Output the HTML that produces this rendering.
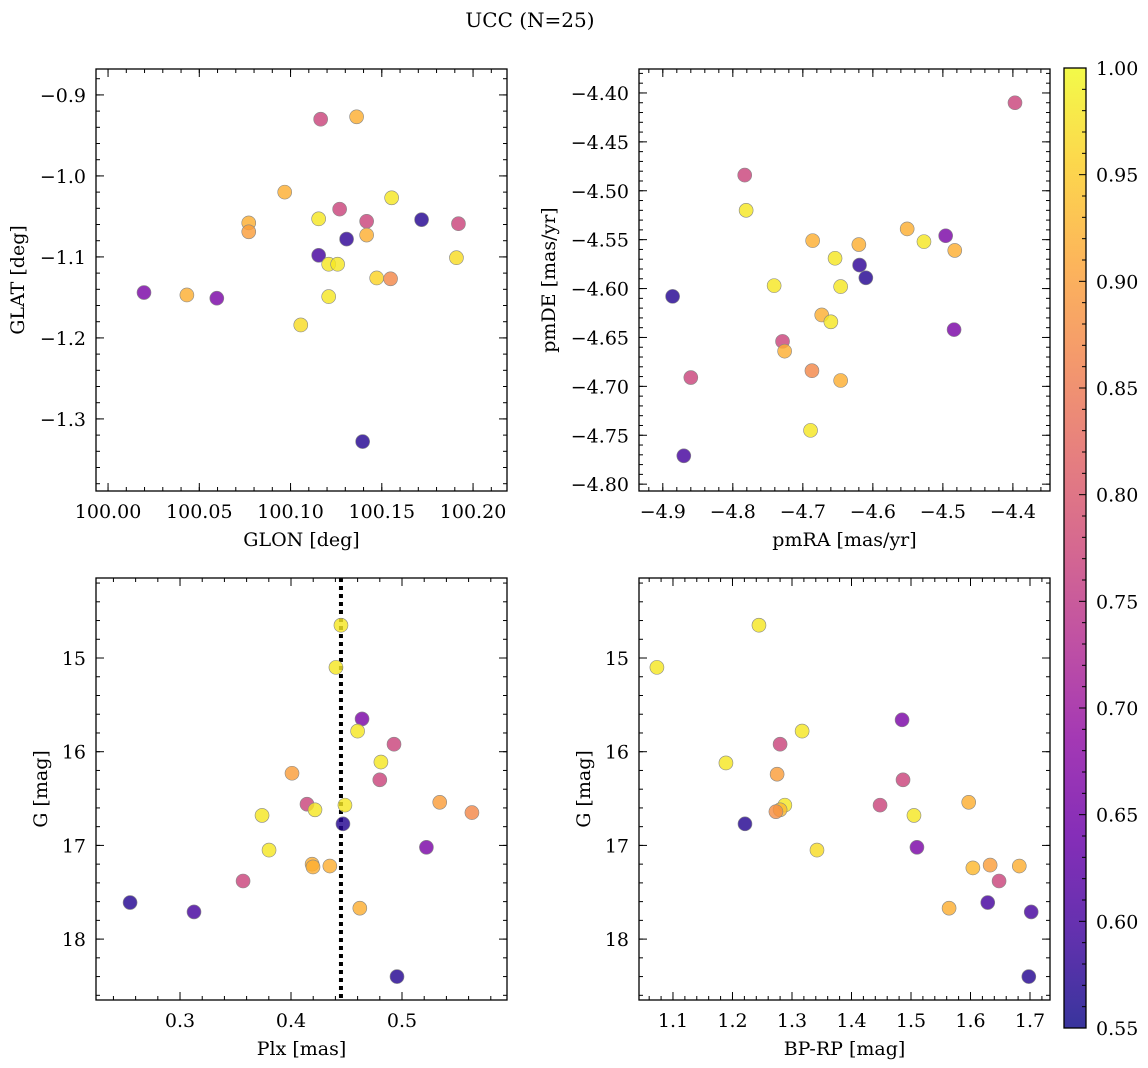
<!DOCTYPE html>
<html><head><meta charset="utf-8"><style>
html,body{margin:0;padding:0;background:#fff;}
svg{display:block;font-family:"DejaVu Serif","Liberation Serif",serif;}
</style></head><body>
<svg id="fig" width="1148" height="1068" viewBox="0 0 1148 1068" xmlns="http://www.w3.org/2000/svg">
<text x="530" y="27" font-size="20" text-anchor="middle">UCC (N=25)</text>
</svg>
<script>
const glon=[100.1165,100.1362,100.0968,100.0771,100.0771,100.1154,100.1269,100.1417,100.1554,100.1718,100.1920,100.1417,100.1307,100.1154,100.1209,100.1258,100.1909,100.1472,100.1548,100.1209,100.1056,100.0197,100.0432,100.0596,100.1395];
const glat=[-0.930,-0.927,-1.020,-1.058,-1.069,-1.053,-1.041,-1.056,-1.027,-1.054,-1.059,-1.073,-1.078,-1.098,-1.109,-1.109,-1.101,-1.126,-1.127,-1.149,-1.184,-1.144,-1.147,-1.151,-1.328];
const prob1=[0.77,0.92,0.92,0.92,0.90,0.98,0.77,0.77,0.98,0.57,0.77,0.92,0.58,0.60,0.98,0.98,0.97,0.96,0.87,0.98,0.97,0.66,0.92,0.66,0.57];
const pmra=[-4.397,-4.783,-4.781,-4.551,-4.527,-4.686,-4.620,-4.496,-4.483,-4.619,-4.610,-4.654,-4.886,-4.741,-4.646,-4.673,-4.660,-4.484,-4.729,-4.726,-4.860,-4.687,-4.646,-4.689,-4.870];
const pmde=[-4.410,-4.484,-4.520,-4.539,-4.552,-4.551,-4.555,-4.546,-4.561,-4.576,-4.589,-4.569,-4.608,-4.597,-4.598,-4.627,-4.634,-4.642,-4.654,-4.664,-4.691,-4.684,-4.694,-4.745,-4.771];
const prob2=[0.77,0.77,0.98,0.92,0.98,0.92,0.92,0.66,0.92,0.58,0.57,0.98,0.57,0.98,0.98,0.92,0.98,0.66,0.77,0.92,0.77,0.87,0.92,0.98,0.60];
const plx=[0.445,0.4405,0.464,0.460,0.4928,0.481,0.4009,0.480,0.534,0.4144,0.4486,0.4216,0.563,0.3739,0.4468,0.522,0.3802,0.419,0.4198,0.435,0.3568,0.462,0.255,0.3126,0.4955];
const gmag3=[14.65,15.10,15.65,15.78,15.92,16.11,16.23,16.30,16.54,16.56,16.57,16.62,16.65,16.68,16.77,17.02,17.05,17.20,17.23,17.22,17.38,17.67,17.61,17.71,18.40];
const prob3=[0.98,0.98,0.66,0.98,0.77,0.98,0.90,0.77,0.90,0.77,0.98,0.98,0.87,0.98,0.57,0.66,0.98,0.92,0.92,0.92,0.77,0.92,0.57,0.60,0.57];
const plxLine=[0.445];
const bprp=[1.073,1.2445,1.189,1.317,1.280,1.485,1.275,1.4866,1.597,1.448,1.288,1.280,1.273,1.505,1.221,1.510,1.342,1.604,1.633,1.682,1.648,1.564,1.629,1.702,1.698];
const gmag4=[15.10,14.65,16.12,15.78,15.92,15.66,16.24,16.30,16.54,16.57,16.57,16.62,16.64,16.68,16.77,17.02,17.05,17.24,17.21,17.22,17.38,17.67,17.61,17.71,18.40];
const prob4=[0.98,0.98,0.98,0.98,0.77,0.66,0.90,0.77,0.92,0.77,0.98,0.93,0.88,0.98,0.57,0.66,0.97,0.93,0.90,0.92,0.77,0.92,0.60,0.60,0.57];
const cbarTicks=[0.55,0.60,0.65,0.70,0.75,0.80,0.85,0.90,0.95,1.00];

const NS='http://www.w3.org/2000/svg';
const svg=document.getElementById('fig');
const FS=19;
const plasma=[[13,8,135],[65,4,157],[106,0,168],[143,13,164],[177,42,144],[204,71,120],[225,100,98],[242,132,75],[252,166,54],[252,206,37],[240,249,33]];
function cmap(v){const t=Math.max(0,Math.min(1,(v-0.55)/0.45))*10;const i=Math.min(9,Math.floor(t));const f=t-i;const a=plasma[i],b=plasma[i+1];
return 'rgb('+a.map((c,k)=>Math.round(c+(b[k]-c)*f)).join(',')+')';}
function el(tag,attrs,parent){const e=document.createElementNS(NS,tag);for(const k in attrs)e.setAttribute(k,attrs[k]);(parent||svg).appendChild(e);return e;}
function fmt(v,d){return (v<0?'\u2212':'')+Math.abs(v).toFixed(d);}

function panel(c){
  const g=el('g',{});
  
  
  const sx=v=>c.x0+(v-c.xlim[0])/(c.xlim[1]-c.xlim[0])*(c.x1-c.x0);
  const sy=c.inv?(v=>c.y0+(v-c.ylim[0])/(c.ylim[1]-c.ylim[0])*(c.y1-c.y0)):(v=>c.y1-(v-c.ylim[0])/(c.ylim[1]-c.ylim[0])*(c.y1-c.y0));
  function ticks(lim,step){const a=[];let s=Math.ceil(lim[0]/step-1e-6);for(let k=s;k*step<=lim[1]+1e-9;k++)a.push(k*step);return a;}
  const tg=el('g',{stroke:'#000','stroke-width':1},g);
  
  
  ticks(c.xlim,c.xminor).forEach(v=>{const x=sx(v);el('line',{x1:x,x2:x,y1:c.y1,y2:c.y1-4},tg);el('line',{x1:x,x2:x,y1:c.y0,y2:c.y0+4},tg);});
  ticks(c.ylim,c.yminor).forEach(v=>{const y=sy(v);el('line',{x1:c.x0,x2:c.x0+4,y1:y,y2:y},tg);el('line',{x1:c.x1,x2:c.x1-4,y1:y,y2:y},tg);});
  ticks(c.xlim,c.xmajor).forEach(v=>{const x=sx(v);el('line',{x1:x,x2:x,y1:c.y1,y2:c.y1-8},tg);el('line',{x1:x,x2:x,y1:c.y0,y2:c.y0+8},tg);
    const t=el('text',{x:x,y:c.y1+27,'font-size':FS,'text-anchor':'middle'},g);t.textContent=fmt(v,c.xd);
    });
  ticks(c.ylim,c.ymajor).forEach(v=>{const y=sy(v);el('line',{x1:c.x0,x2:c.x0+8,y1:y,y2:y},tg);el('line',{x1:c.x1,x2:c.x1-8,y1:y,y2:y},tg);
    const t=el('text',{x:c.x0-10,y:y+7,'font-size':FS,'text-anchor':'end'},g);t.textContent=fmt(v,c.yd);
    });
  if(c.vline){c.vline.forEach(v=>{const l=el('line',{x1:sx(v),x2:sx(v),y1:c.y0,y2:c.y1,stroke:'#000','stroke-width':4,'stroke-dasharray':'4 4'},g);
    });}
  const pg=el('g',{},g);
  
  
  c.xs.forEach((v,i)=>{const p=el('circle',{cx:sx(v),cy:sy(c.ys[i]),r:7,fill:cmap(c.p[i]),'fill-opacity':0.82,stroke:'#888','stroke-width':0.6},pg);
    });
  const f=el('rect',{x:c.x0,y:c.y0,width:c.x1-c.x0,height:c.y1-c.y0,fill:'none',stroke:'#000','stroke-width':1.3},g);
  
  const xl=el('text',{x:(c.x0+c.x1)/2,y:c.y1+55,'font-size':FS,'text-anchor':'middle'},g);xl.textContent=c.xlabel;
  
  const yx=c.ylx,yy=(c.y0+c.y1)/2;
  const yl=el('text',{x:yx,y:yy,'font-size':FS,'text-anchor':'middle',transform:'rotate(-90 '+yx+' '+yy+')'},g);yl.textContent=c.ylabel;
  
}
panel({name:'glon-glat-panel',x0:96,x1:507,y0:69,y1:491,xlim:[99.9934,100.2186],ylim:[-1.389,-0.868],xmajor:0.05,xminor:0.01,ymajor:0.1,yminor:0.02,xd:2,yd:1,xs:glon,ys:glat,p:prob1,xlabel:'GLON [deg]',ylabel:'GLAT [deg]',ylx:24});
panel({name:'pm-panel',x0:639,x1:1050,y0:69,y1:491,xlim:[-4.934,-4.347],ylim:[-4.807,-4.3755],xmajor:0.1,xminor:0.02,ymajor:0.05,yminor:0.01,xd:1,yd:2,xs:pmra,ys:pmde,p:prob2,xlabel:'pmRA [mas/yr]',ylabel:'pmDE [mas/yr]',ylx:555});
panel({name:'plx-g-panel',x0:96,x1:507,y0:578,y1:1000,xlim:[0.2243,0.5946],ylim:[14.146,18.65],inv:true,xmajor:0.1,xminor:0.02,ymajor:1,yminor:0.2,xd:1,yd:0,xs:plx,ys:gmag3,p:prob3,xlabel:'Plx [mas]',ylabel:'G [mag]',ylx:47,vline:plxLine});
panel({name:'cmd-panel',x0:639,x1:1050,y0:578,y1:1000,xlim:[1.0429,1.7336],ylim:[14.146,18.65],inv:true,xmajor:0.1,xminor:0.02,ymajor:1,yminor:0.2,xd:1,yd:0,xs:bprp,ys:gmag4,p:prob4,xlabel:'BP-RP [mag]',ylabel:'G [mag]',ylx:590});

const cb=el('g',{});


const defs=el('defs',{},cb);
const lg=el('linearGradient',{id:'pl',x1:0,y1:1,x2:0,y2:0},defs);
plasma.forEach((c,i)=>el('stop',{offset:(i*10)+'%','stop-color':'rgb('+c.join(',')+')','stop-opacity':0.82},lg));
const cy0=68,cy1=1028,cx0=1064,cx1=1086;
const cbs=v=>cy1-(v-0.55)/0.45*(cy1-cy0);
const bar=el('rect',{x:cx0,y:cy0,width:cx1-cx0,height:cy1-cy0,fill:'url(#pl)',stroke:'#000','stroke-width':1.3},cb);

for(let k=55;k<=100;k++){const y=cbs(k/100);const maj=k%5===0;el('line',{x1:cx1,x2:cx1-(maj?7:4),y1:y,y2:y,stroke:'#000','stroke-width':1},cb);}
cbarTicks.forEach(v=>{const t=el('text',{x:cx1+10,y:cbs(v)+7,'font-size':FS},cb);t.textContent=v.toFixed(2);
  });
</script>
</body></html>
